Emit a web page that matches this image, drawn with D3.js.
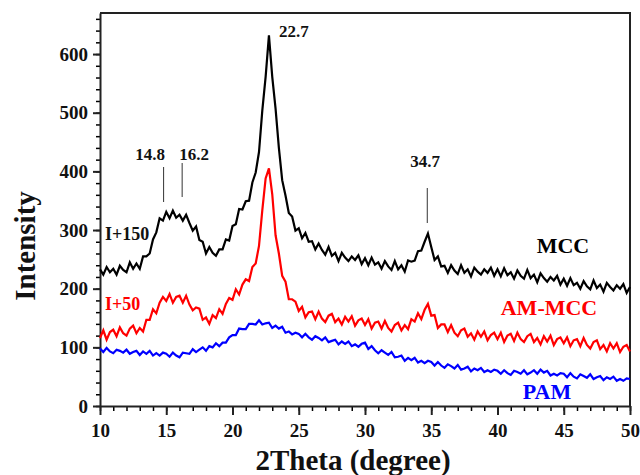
<!DOCTYPE html>
<html>
<head>
<meta charset="utf-8">
<script src="https://cdn.jsdelivr.net/npm/d3@7"></script>
<style>
  body { margin: 0; background: #fff; }
</style>
</head>
<body>
<div id="vis"></div>
<script>
//-- Data (2Theta from 10 to 50 in 0.25 degree steps)
var twoTheta = d3.range(161).map(function (i) { return 10 + i * 0.25; });

var mcc = [233,224,237,228,234,224,239,232,228,245,234,243,234,255,255,260,284,296,320,316,
  331,320,333,321,326,316,326,312,299,306,283,280,260,271,261,256,267,267,284,282,
  307,310,336,335,349,350,381,398,433,504,561,632,561,507,440,385,359,329,323,299,
  303,286,295,280,281,267,277,266,258,271,256,261,247,261,253,247,255,249,257,242,
  252,240,253,241,245,234,247,238,232,247,233,240,229,248,246,248,264,265,280,294,
  271,249,255,238,239,227,240,231,225,240,227,233,221,236,229,224,233,227,236,222,
  233,221,235,223,228,217,231,222,217,232,218,224,211,226,218,212,220,214,222,207,
  217,205,218,206,210,200,213,204,199,214,201,207,195,210,203,197,206,200,208,193,
  203];

var amMcc = [116,129,113,126,130,119,134,124,120,132,137,124,133,127,147,147,165,158,176,186,
  179,191,176,186,188,176,188,173,163,168,166,147,151,140,155,150,165,157,174,184,
  181,199,190,207,216,213,237,243,273,334,388,405,361,291,260,222,212,182,182,178,
  162,169,151,160,161,148,161,149,143,154,157,143,149,139,152,144,153,137,146,149,
  138,148,132,142,144,132,145,133,127,138,142,129,138,131,148,144,158,148,164,174,
  154,155,133,139,139,126,138,125,119,129,132,118,124,113,127,118,127,112,121,125,
  114,125,109,120,123,111,125,114,109,119,123,109,116,105,119,110,120,104,114,117,
  107,117,102,112,114,102,116,104,98,109,112,97,104,93,107,98,107,92,101,104,
  93];

var pam = [98,92,99,93,90,96,94,91,96,89,92,94,87,93,89,94,86,90,86,91,
  89,84,91,86,83,91,90,89,97,92,96,100,94,102,100,107,102,108,108,117,
  121,121,132,131,131,140,140,139,146,139,141,142,133,137,132,135,125,127,122,125,
  123,117,123,117,113,119,116,112,117,109,111,113,105,110,106,110,102,105,101,106,
  108,97,102,95,90,95,91,87,92,83,84,86,77,82,78,82,74,77,73,77,
  75,69,75,69,65,71,68,64,70,62,64,67,59,64,61,65,58,61,58,62,
  60,55,61,56,53,60,58,55,61,54,57,61,55,62,57,60,52,55,52,56,
  55,49,56,50,47,54,51,48,54,46,49,51,44,49,46,50,43,46,43,47,
  46];

var seriesNames = ["MCC", "AM-MCC", "PAM"];
var seriesColors = ["#000000", "#ff0000", "#0000ff"];
var xTicks = [10, 15, 20, 25, 30, 35, 40, 45, 50];
var yTicks = [0, 100, 200, 300, 400, 500, 600];
var peakPos = [14.8, 16.2, 34.7];
var peakTop = [167, 163, 188];
var peakBottom = [202, 197, 223];

//-- Setup
var width = 640;
var height = 475;
var margin = { left: 100, right: 10, top: 13, bottom: 69 };
var serif = "Liberation Serif";

var svg = d3.select("#vis").append("svg")
  .attr("width", width)
  .attr("height", height)
  .attr("font-family", serif)
  .attr("font-weight", "bold");

var x = d3.scaleLinear().domain([10, 50]).range([margin.left, width - margin.right]);
var y = d3.scaleLinear().domain([0, 670]).range([height - margin.bottom, margin.top]);

// frame (top + right)
svg.append("path")
  .attr("d", "M" + x(10) + "," + y(670) + "H" + x(50) + "V" + y(0))
  .attr("fill", "none")
  .attr("stroke", "#222")
  .attr("stroke-width", 2);

// minor ticks
svg.append("g")
  .attr("transform", "translate(0," + y(0) + ")")
  .call(d3.axisBottom(x).tickValues(d3.range(10, 51, 1)).tickSize(5).tickFormat("").tickSizeOuter(0))
  .call(function (g) { g.select(".domain").remove(); g.selectAll("line").attr("stroke-width", 1.5); });

svg.append("g")
  .attr("transform", "translate(" + x(10) + ",0)")
  .call(d3.axisLeft(y).tickValues(d3.range(0, 661, 20)).tickSize(4).tickFormat("").tickSizeOuter(0))
  .call(function (g) { g.select(".domain").remove(); g.selectAll("line").attr("stroke-width", 1.5); });

// major axes
var xAxis = svg.append("g")
  .attr("transform", "translate(0," + y(0) + ")")
  .call(d3.axisBottom(x).tickValues(xTicks).tickSize(9).tickPadding(9).tickSizeOuter(0));

var yAxis = svg.append("g")
  .attr("transform", "translate(" + x(10) + ",0)")
  .call(d3.axisLeft(y).tickValues(yTicks).tickSize(7).tickPadding(5).tickSizeOuter(0));

[xAxis, yAxis].forEach(function (g) {
  g.attr("font-family", serif).attr("font-size", 19);
  g.select(".domain").attr("stroke", "#222").attr("stroke-width", 2);
  g.selectAll(".tick line").attr("stroke", "#222").attr("stroke-width", 2);
  g.selectAll(".tick text").attr("fill", "#111");
});

// lines
var allSeries = [mcc, amMcc, pam];
var line = d3.line()
  .x(function (d, i) { return x(twoTheta[i]); })
  .y(function (d) { return y(d); });

allSeries.forEach(function (s, k) {
  svg.append("path")
    .datum(s)
    .attr("fill", "none")
    .attr("stroke", seriesColors[k])
    .attr("stroke-width", 2.2)
    .attr("d", line);
});

// peak markers
peakPos.forEach(function (p, i) {
  svg.append("line")
    .attr("x1", x(p)).attr("x2", x(p))
    .attr("y1", peakTop[i]).attr("y2", peakBottom[i])
    .attr("stroke", "#333")
    .attr("stroke-width", 1);
});

var peakLabels = [
  { t: "14.8", x: 150, y: 160, a: "middle" },
  { t: "16.2", x: 194, y: 160, a: "middle" },
  { t: "34.7", x: 425, y: 167, a: "middle" },
  { t: "22.7", x: 279, y: 37, a: "start" }
];
peakLabels.forEach(function (d) {
  svg.append("text")
    .attr("x", d.x).attr("y", d.y)
    .attr("text-anchor", d.a)
    .attr("font-size", 17)
    .attr("fill", "#111")
    .text(d.t);
});

// offset labels
svg.append("text").attr("x", 105).attr("y", 240).attr("font-size", 18).attr("fill", "#111").text("I+150");
svg.append("text").attr("x", 105).attr("y", 310).attr("font-size", 18).attr("fill", "#ff0000").text("I+50");

// series names
var nameLabels = [
  { x: 563, y: 253 },
  { x: 549, y: 315 },
  { x: 547, y: 399 }
];
seriesNames.forEach(function (n, k) {
  svg.append("text")
    .attr("x", nameLabels[k].x).attr("y", nameLabels[k].y)
    .attr("text-anchor", "middle")
    .attr("font-size", 22)
    .attr("fill", seriesColors[k])
    .text(n);
});

// axis titles
svg.append("text")
  .attr("x", 353).attr("y", 470)
  .attr("text-anchor", "middle")
  .attr("font-size", 29)
  .attr("fill", "#111")
  .text("2Theta (degree)");

svg.append("text")
  .attr("transform", "translate(35,246) rotate(-90)")
  .attr("text-anchor", "middle")
  .attr("font-size", 29)
  .attr("fill", "#111")
  .text("Intensity");
</script>
</body>
</html>
